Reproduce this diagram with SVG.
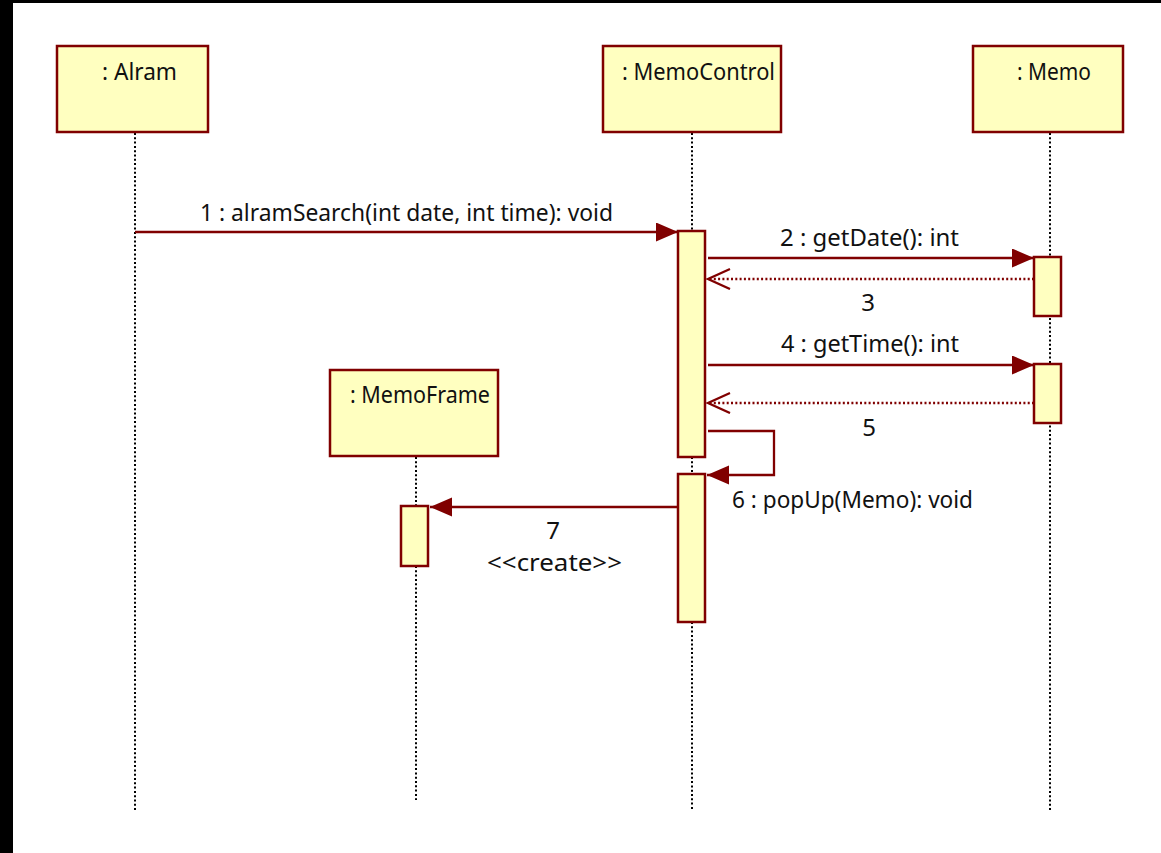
<svg xmlns="http://www.w3.org/2000/svg" width="1161" height="853" viewBox="0 0 1161 853">
<style>
  text { font-family: "Noto Sans", "Liberation Sans", sans-serif; font-size: 24px; fill: #111; }
  .obj { fill: #FFFFC0; stroke: #800000; stroke-width: 2.5; }
  .act { fill: #FFFFC0; stroke: #800000; stroke-width: 2.5; }
  .life { stroke: #000; stroke-width: 2; stroke-dasharray: 2 2.3; fill: none; }
  .msg { stroke: #800000; stroke-width: 2.3; fill: none; }
  .ret { stroke: #800000; stroke-width: 2.3; stroke-dasharray: 2 2.3; fill: none; }
</style>
<defs>
  <marker id="filled" markerUnits="userSpaceOnUse" markerWidth="24" markerHeight="20" refX="22" refY="9.5" orient="auto">
    <path d="M0,0 L22,9.5 L0,19 Z" fill="#800000"/>
  </marker>
  <marker id="open" markerUnits="userSpaceOnUse" markerWidth="26" markerHeight="24" refX="23" refY="11" orient="auto">
    <path d="M1,1 L23,11 L1,21" fill="none" stroke="#800000" stroke-width="2.3"/>
  </marker>
</defs>
<rect x="0" y="0" width="1161" height="853" fill="#fff"/>
<rect x="0" y="0" width="1161" height="3" fill="#000"/>
<rect x="0" y="0" width="13" height="853" fill="#000"/>

<g id="lifelines">
  <line class="life" x1="135" y1="133" x2="135" y2="811"/>
  <line class="life" x1="692" y1="133" x2="692" y2="231"/>
  <line class="life" x1="692" y1="457" x2="692" y2="474"/>
  <line class="life" x1="692" y1="622" x2="692" y2="811"/>
  <line class="life" x1="1050" y1="133" x2="1050" y2="811"/>
  <line class="life" x1="416" y1="457" x2="416" y2="506"/>
  <line class="life" x1="416" y1="566" x2="416" y2="800"/>
</g>

<g id="alram">
  <rect class="obj" x="57" y="46" width="151" height="86"/>
  <text x="102" y="80" textLength="75" lengthAdjust="spacingAndGlyphs">: Alram</text>
</g>
<g id="memocontrol">
  <rect class="obj" x="603" y="46" width="178" height="86"/>
  <text x="622" y="80" textLength="153" lengthAdjust="spacingAndGlyphs">: MemoControl</text>
  <rect class="act" x="678" y="231" width="27" height="226"/>
  <rect class="act" x="678" y="474" width="27" height="148"/>
</g>
<g id="memo">
  <rect class="obj" x="973" y="46" width="150" height="86"/>
  <text x="1017" y="80" textLength="74" lengthAdjust="spacingAndGlyphs">: Memo</text>
  <rect class="act" x="1034" y="257" width="27" height="59"/>
  <rect class="act" x="1034" y="364" width="27" height="59"/>
</g>
<g id="memoframe">
  <rect class="obj" x="330" y="370" width="168" height="86"/>
  <text x="350" y="403" textLength="140" lengthAdjust="spacingAndGlyphs">: MemoFrame</text>
  <rect class="act" x="401" y="506" width="27" height="60"/>
</g>

<g id="connectors">
  <line class="msg" x1="135" y1="232" x2="678" y2="232" marker-end="url(#filled)"/>
  <text x="200" y="221" textLength="413" lengthAdjust="spacingAndGlyphs">1 : alramSearch(int date, int time): void</text>

  <line class="msg" x1="708" y1="258" x2="1034" y2="258" marker-end="url(#filled)"/>
  <text x="780" y="246" textLength="179" lengthAdjust="spacingAndGlyphs">2 : getDate(): int</text>

  <line class="ret" x1="1034" y1="279" x2="708" y2="279" marker-end="url(#open)"/>
  <text x="868" y="311" text-anchor="middle">3</text>

  <line class="msg" x1="708" y1="365" x2="1034" y2="365" marker-end="url(#filled)"/>
  <text x="781" y="352" textLength="178" lengthAdjust="spacingAndGlyphs">4 : getTime(): int</text>

  <line class="ret" x1="1034" y1="403" x2="708" y2="403" marker-end="url(#open)"/>
  <text x="869" y="436" text-anchor="middle">5</text>

  <polyline class="msg" points="708,431 774,431 774,475 707,475" marker-end="url(#filled)"/>
  <text x="732" y="508" textLength="241" lengthAdjust="spacingAndGlyphs">6 : popUp(Memo): void</text>

  <line class="msg" x1="678" y1="507" x2="430" y2="507" marker-end="url(#filled)"/>
  <text x="553" y="539" text-anchor="middle">7</text>
  <text x="487" y="571" textLength="135" lengthAdjust="spacingAndGlyphs">&lt;&lt;create&gt;&gt;</text>
</g>
</svg>
